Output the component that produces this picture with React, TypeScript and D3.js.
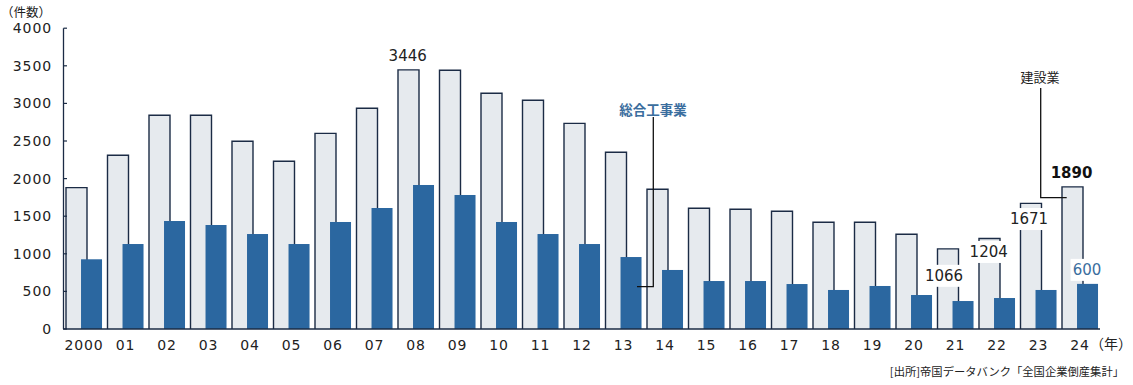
import React from "react";
import * as d3 from "d3";

const years = ["2000","01","02","03","04","05","06","07","08","09","10","11","12","13","14","15","16","17","18","19","20","21","22","23","24"];
const construction = [1880,2310,2842,2842,2496,2230,2602,2935,3446,3440,3134,3041,2735,2350,1858,1605,1592,1565,1419,1419,1259,1066,1204,1671,1890];
const general = [927,1130,1436,1383,1263,1130,1423,1609,1915,1782,1423,1263,1130,957,785,638,638,598,519,572,452,372,412,519,600];
const yTicks = [0,500,1000,1500,2000,2500,3000,3500,4000];

const labels = [
  { year: "08", series: "c", text: "3446", dx: 9.7, dy: -14, color: "#222", bold: false, bg: false },
  { year: "21", series: "c", text: "1066", dx: 6.5, dy: 27, color: "#222", bold: false, bg: true },
  { year: "22", series: "c", text: "1204", dx: 9.7, dy: 13.5, color: "#222", bold: false, bg: true },
  { year: "23", series: "c", text: "1671", dx: 8.5, dy: 15.7, color: "#222", bold: false, bg: true },
  { year: "24", series: "c", text: "1890", dx: 9.5, dy: -14, color: "#111", bold: true, bg: false },
  { year: "24", series: "g", text: "600", dx: 25, dy: -14, color: "#3b6e9e", bold: false, bg: true },
];

const JP = "'Noto Sans CJK JP', 'Noto Sans', sans-serif";
const NUM = "'DejaVu Sans', 'Noto Sans', sans-serif";
const LIGHT = "#e6eaee";
const STROKE = "#1b2b45";
const DARK = "#2b67a0";

export default function App() {
  const W = 1133, H = 385;
  const x = d3.scaleBand<string>().domain(years).range([66, 66 + 25 * 41.5]).paddingInner(0).paddingOuter(0);
  const y = d3.scaleLinear().domain([0, 4000]).range([329, 28.2]);
  const bw = x.bandwidth();
  const lightW = bw * 0.506;
  const darkOff = bw * 0.362;
  const darkW = bw * 0.506;

  const topC = (yr: string) => y(construction[years.indexOf(yr)]);
  const topG = (yr: string) => y(general[years.indexOf(yr)]);

  return (
    <svg width={W} height={H} style={{ position: "absolute", left: 0, top: 0, background: "#fff" }} fontFamily={JP}>
      {years.map((yr, i) => {
        const x0 = x(yr)!;
        const t = y(construction[i]);
        return (
          <g key={"c" + yr}>
            <rect x={x0} y={t} width={lightW} height={y(0) - t} fill={LIGHT} />
            <path d={`M${x0},${y(0)}V${t}H${x0 + lightW}V${y(0)}`} fill="none" stroke={STROKE} strokeWidth={1.4} />
          </g>
        );
      })}
      {years.map((yr, i) => {
        const x0 = x(yr)! + darkOff;
        const t = y(general[i]);
        return <rect key={"g" + yr} x={x0} y={t} width={darkW} height={y(0) - t} fill={DARK} />;
      })}
      <line x1={63.5} x2={63.5} y1={y(4000)} y2={y(0)} stroke={STROKE} strokeWidth={1.3} />
      <line x1={63} x2={1100} y1={y(0)} y2={y(0)} stroke={STROKE} strokeWidth={1.5} />
      {yTicks.map((t) => (
        <g key={"t" + t}>
          <line x1={63.5} x2={67} y1={y(t)} y2={y(t)} stroke={STROKE} strokeWidth={1.2} />
          <text x={52} y={y(t)} dy="0.36em" textAnchor="end" fontSize={14} letterSpacing={0.9} fontFamily={NUM} fill="#222">{t}</text>
        </g>
      ))}
      {years.map((yr) => (
        <text key={"x" + yr} x={x(yr)! + 18} y={345} dy="0.36em" textAnchor="middle" fontSize={14} letterSpacing={0.9} fontFamily={NUM} fill="#222">{yr}</text>
      ))}
      <text x={1111} y={344} dy="0.36em" textAnchor="middle" fontSize={14} fill="#222">（年）</text>
      <text x={1} y={12.5} dy="0.36em" textAnchor="start" fontSize={12.5} fill="#222">（件数）</text>
      <text x={1124} y={372} dy="0.36em" textAnchor="end" fontSize={11.3} fill="#222">[出所]帝国データバンク「全国企業倒産集計」</text>

      <path d={`M653.3,117V286.7H637`} fill="none" stroke="#111" strokeWidth={1.3} />
      <text x={653} y={110} dy="0.36em" textAnchor="middle" fontSize={13.5} fontWeight="bold" fill="#3b6e9e">総合工事業</text>
      <path d={`M1040.7,88V197.7H1066.7`} fill="none" stroke="#111" strokeWidth={1.3} />
      <text x={1040} y={77} dy="0.36em" textAnchor="middle" fontSize={13} fill="#222">建設業</text>

      {labels.map((l, k) => {
        const top = l.series === "c" ? topC(l.year) : topG(l.year);
        const cx = x(l.year)! + l.dx;
        const cy = top + l.dy;
        const w = l.text.length * 9.6 + 4;
        return (
          <g key={"l" + k}>
            {l.bg && <rect x={cx - w / 2} y={cy - 11} width={w} height={22} fill="#fff" />}
            <text x={cx} y={cy} dy="0.36em" textAnchor="middle" fontSize={15} fontFamily={NUM} fontWeight={l.bold ? 600 : "normal"} fill={l.color}>{l.text}</text>
          </g>
        );
      })}
    </svg>
  );
}
